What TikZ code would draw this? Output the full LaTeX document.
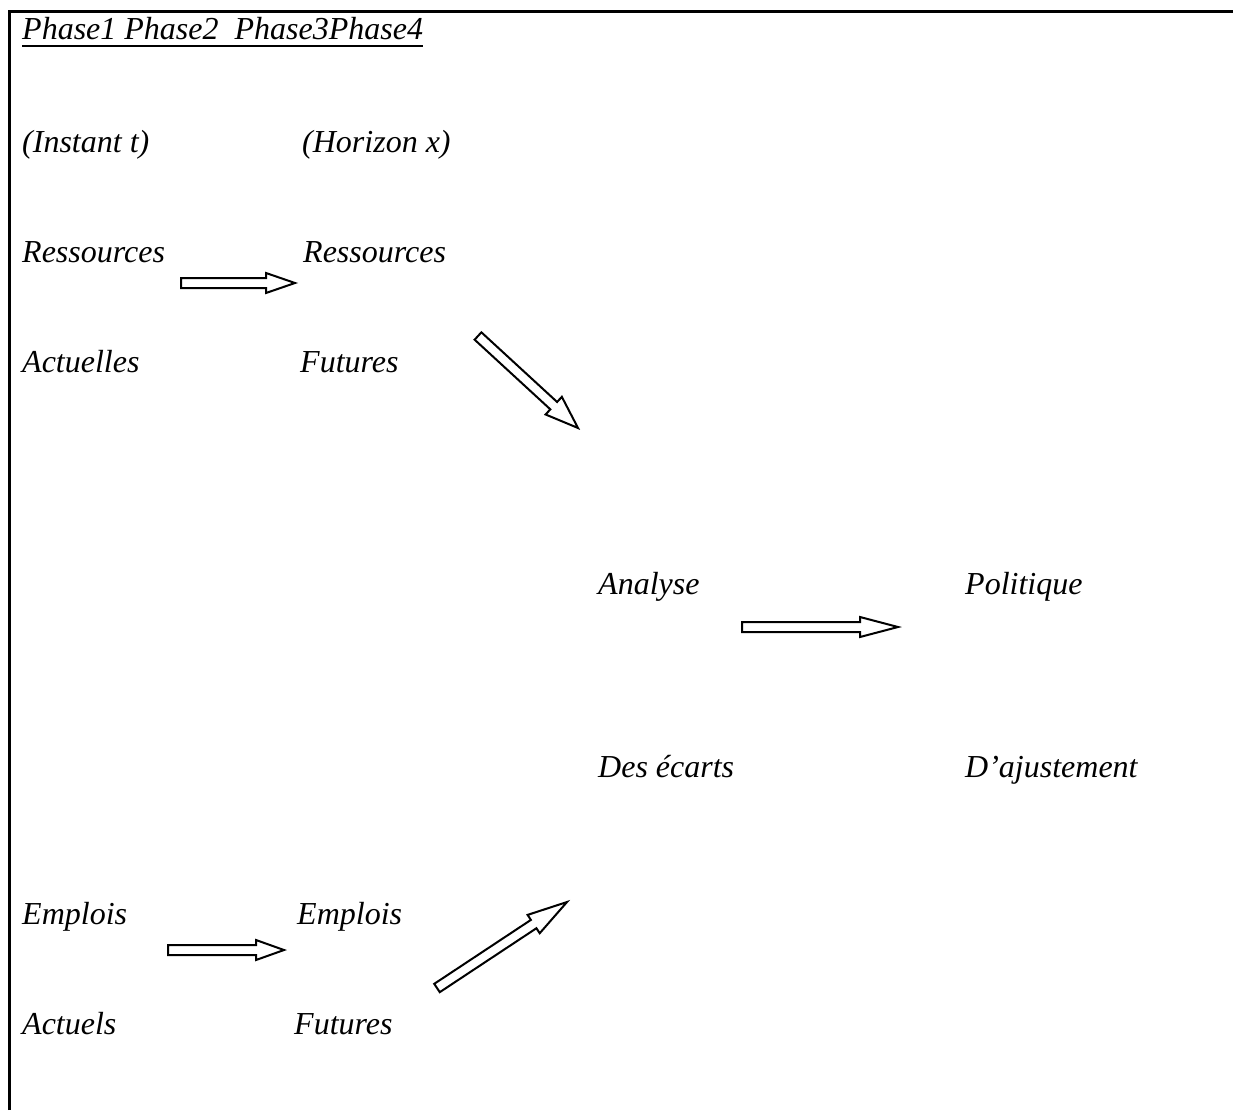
\documentclass[tikz,border=0pt]{standalone}
\usepackage{fontspec}
\setmainfont{Liberation Serif}
\usetikzlibrary{calc}
% outlined block arrow: tail, tip, shaft half-width, head half-width, head length
\newcommand\blockarrow[5]{%
  \coordinate (hb) at ($(#2)!#5!(#1)$);
  \draw[arrowline] ($(#1)!#3!90:(#2)$) -- ($(hb)!#3!90:(#2)$) -- ($(hb)!#4!90:(#2)$)
    -- (#2) -- ($(hb)!#4!-90:(#2)$) -- ($(hb)!#3!-90:(#2)$) -- ($(#1)!#3!-90:(#2)$) -- cycle;
}
\begin{document}
\begin{tikzpicture}[x=1pt,y=-1pt,
  lbl/.style={anchor=base west,inner sep=0pt,font=\fontsize{32}{38}\selectfont\itshape},
  arrowline/.style={draw=black,line width=2pt,fill=white,line join=miter},
  frame/.style={line width=3pt}]
\useasboundingbox (0,0) rectangle (1233,1110);
% frame
\draw[frame] (9,1110) -- (9,12) -- (1233,12);
% texts
\node[lbl] (ph) at (22,40) {Phase1 Phase2\ \ Phase3Phase4};
\draw[line width=2pt] ([yshift=-6pt]ph.base west) -- ([yshift=-6pt]ph.base east);
\node[lbl] (it) at (22,153) {(Instant t)};
\node[lbl] (hx) at (302,153) {(Horizon x)};
\node[lbl] (r1) at (22,262) {Ressources};
\node[lbl] (r2) at (303,262) {Ressources};
\node[lbl] (ac) at (22,372) {Actuelles};
\node[lbl] (fu) at (300,372) {Futures};
\node[lbl] (an) at (598,594) {Analyse};
\node[lbl] (po) at (965,594) {Politique};
\node[lbl] (de) at (598,777) {Des écarts};
\node[lbl] (da) at (965,777) {D’ajustement};
\node[lbl] (e1) at (22,924) {Emplois};
\node[lbl] (e2) at (297,924) {Emplois};
\node[lbl] (at) at (22,1034) {Actuels};
\node[lbl] (f2) at (294,1034) {Futures};
% arrows
\coordinate (a1t) at (181,283); \coordinate (a1h) at (295,283);
\coordinate (a2t) at (478,336); \coordinate (a2h) at (578,428);
\coordinate (a3t) at (742,627); \coordinate (a3h) at (898,627);
\coordinate (a4t) at (168,950); \coordinate (a4h) at (284,950);
\coordinate (a5t) at (437,988); \coordinate (a5h) at (567,902);
\blockarrow{a1t}{a1h}{5pt}{10pt}{29pt}
\blockarrow{a2t}{a2h}{5pt}{12pt}{33pt}
\blockarrow{a3t}{a3h}{5pt}{10pt}{38pt}
\blockarrow{a4t}{a4h}{5pt}{10pt}{28pt}
\blockarrow{a5t}{a5h}{5pt}{11pt}{40pt}
\end{tikzpicture}
\end{document}
